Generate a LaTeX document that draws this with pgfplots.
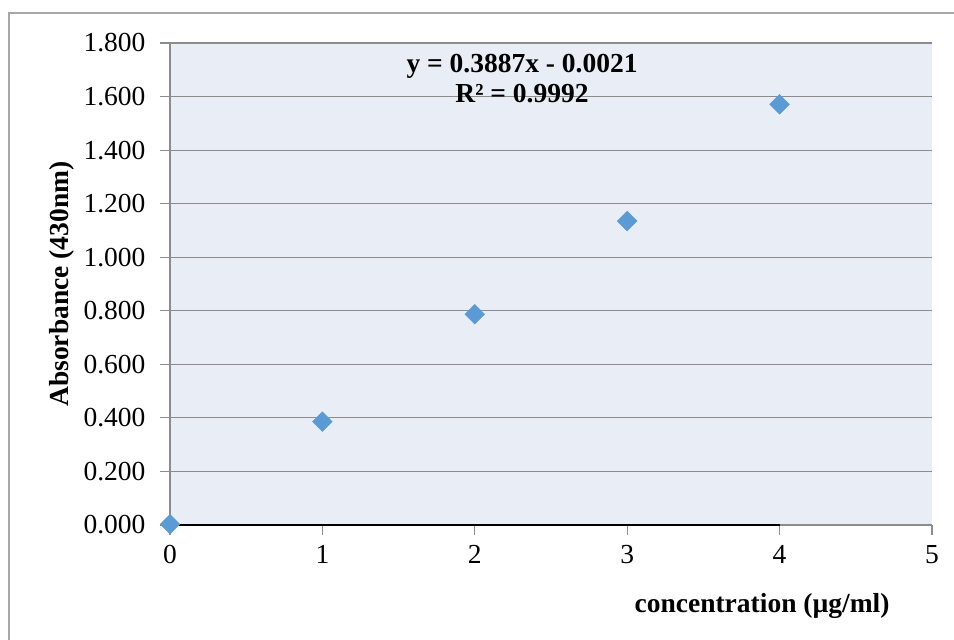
\documentclass[border=0pt]{standalone}
\usepackage{fontspec}
\setmainfont{Liberation Serif}
\usepackage{pgfplots}
\pgfplotsset{compat=1.18}
\definecolor{plotbg}{HTML}{E9EDF6}
\definecolor{mk}{HTML}{5B9BD5}
\definecolor{gridc}{HTML}{8C8C8C}
\definecolor{framec}{HTML}{A6A6A6}
\begin{document}
\begin{tikzpicture}[x=1pt,y=1pt]
\useasboundingbox (0,0) rectangle (954,640);
\draw[color=framec, line width=1.5pt] (9,-20) rectangle (1000,627);
\begin{axis}[
  at={(170pt,115pt)}, anchor=south west,
  scale only axis, width=762pt, height=482pt,
  xmin=0, xmax=5, ymin=0, ymax=1.8,
  xtick={0,1,2,3,4,5},
  ytick={0,0.2,0.4,0.6,0.8,1.0,1.2,1.4,1.6,1.8},
  axis x line*=bottom, axis y line*=left,
  axis line style={-, color=gridc, line width=1.2pt},
  axis background/.style={fill=plotbg},
  ymajorgrids, grid style={color=gridc, line width=1.2pt},
  tick align=outside, major tick length=10pt,
  tick style={color=gridc, line width=1.2pt},
  /pgf/number format/assume math mode=true,
  ticklabel style={font=\fontsize{27.5}{32}\selectfont},
  yticklabel style={/pgf/number format/fixed, /pgf/number format/fixed zerofill, /pgf/number format/precision=3, xshift=-11pt},
  xticklabel style={yshift=-7pt},
  xlabel={\textbf{concentration (µg/ml)}},
  ylabel={\textbf{Absorbance (430nm)}},
  label style={font=\fontsize{27.5}{32}\selectfont},
  xlabel style={at={(axis description cs:0.777,-0.168)}, anchor=center},
  ylabel style={at={(axis description cs:-0.142,0.5)}, anchor=center},
  clip=false,
]
\addplot[black, line width=1.5pt, no marks] coordinates {(0,0) (4,0)};
\addplot[only marks, mark=square*, mark size=7pt, mark options={rotate=45, fill=mk, draw=mk}]
  coordinates {(0,0.003) (1,0.386) (2,0.787) (3,1.135) (4,1.571)};
\node[align=center, font=\fontsize{27.5}{30}\selectfont\bfseries] at (axis cs:2.31,1.669) {y = 0.3887x - 0.0021\\R² = 0.9992};
\end{axis}
\end{tikzpicture}
\end{document}
